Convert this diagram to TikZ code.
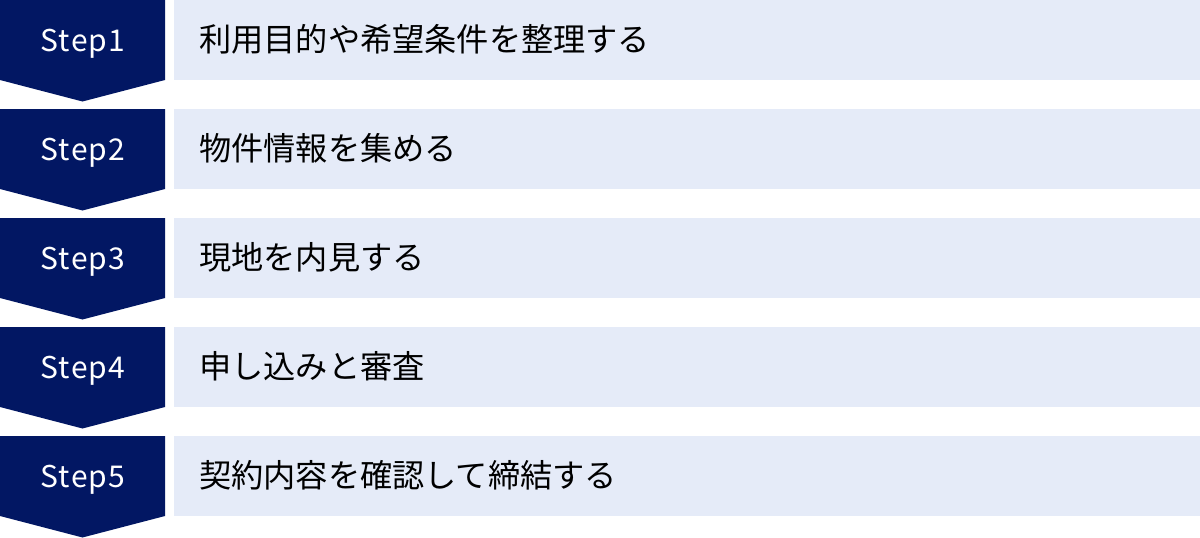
\documentclass[tikz,border=0pt]{standalone}
\usepackage{fontspec}
\setmainfont{Noto Sans}
\newfontfamily\stepfont[LetterSpace=4]{Noto Sans CJK JP}
\newfontfamily\jpfont{Noto Sans CJK JP}
\definecolor{navy}{HTML}{021763}
\definecolor{lightbg}{HTML}{E5EBF8}
\begin{document}
\begin{tikzpicture}[x=1pt,y=-1pt,
  stepshape/.style={fill=navy,draw=none},
  bar/.style={fill=lightbg,draw=none},
  steplabel/.style={text=white,font=\stepfont\fontsize{30}{34}\selectfont,anchor=base,inner sep=0pt},
  barlabel/.style={text=black,font=\jpfont\fontsize{32.2}{36}\selectfont,anchor=base west,inner sep=0pt}]
\useasboundingbox (0,0) rectangle (1200,538);
\foreach \i/\t in {0/利用目的や希望条件を整理する,1/物件情報を集める,2/現地を内見する,3/申し込みと審査,4/契約内容を確認して締結する}{
  \pgfmathsetmacro{\yt}{\i*109}
  \fill[stepshape] (0,\yt) -- (165,\yt) -- (165,\yt+80) -- (82.5,\yt+101.5) -- (0,\yt+80) -- cycle;
  \fill[bar] (174,\yt) rectangle (1200,\yt+80);
  \pgfmathtruncatemacro{\n}{\i+1}
  \node[steplabel] (s\n) at (83,\yt+51.5) {Step\n};
  \node[barlabel] (b\n) at (199,\yt+51) {\t};
}
\end{tikzpicture}
\end{document}
